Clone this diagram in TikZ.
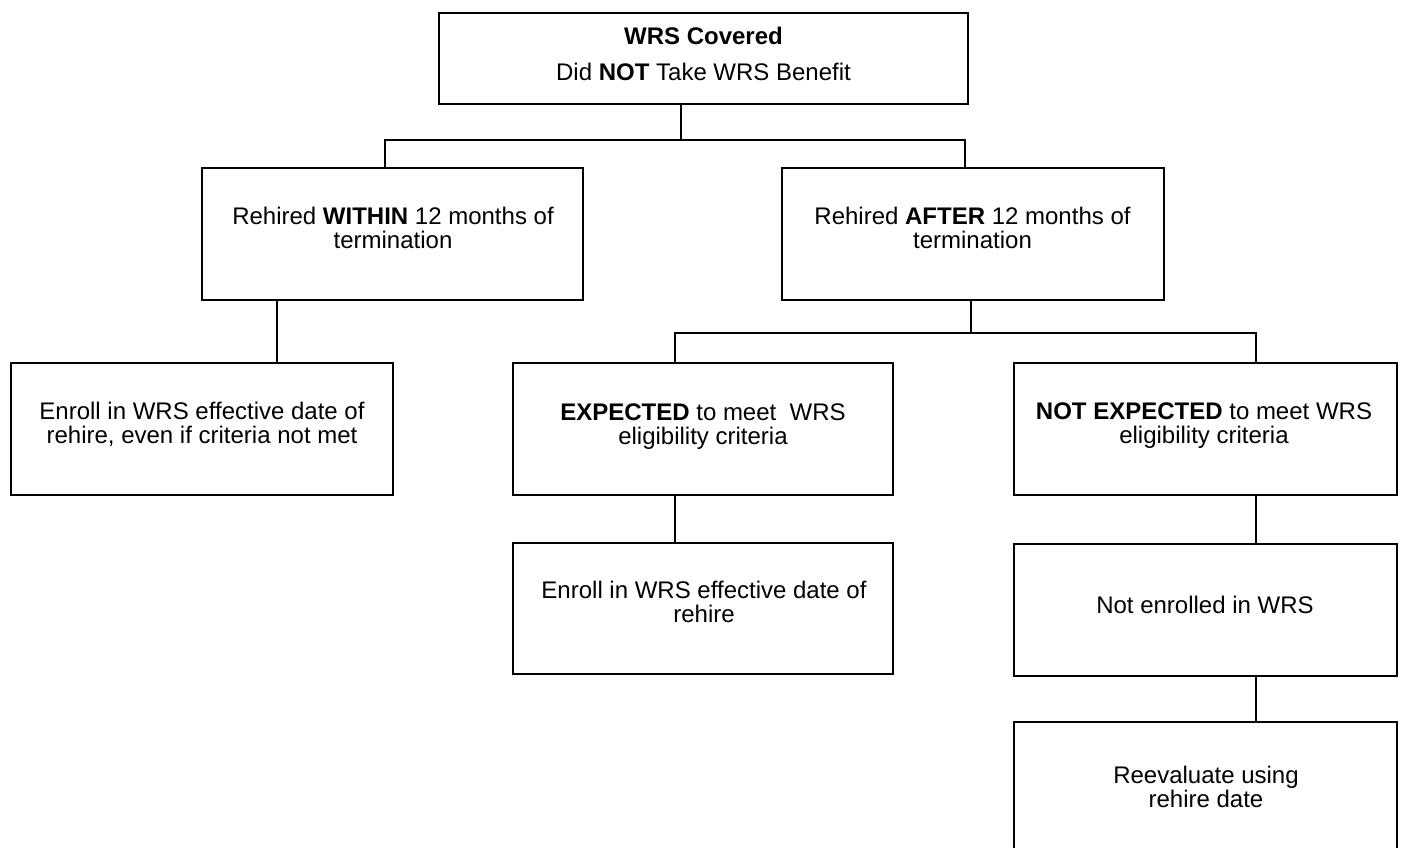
\documentclass[tikz,border=0pt]{standalone}
\usepackage{fontspec}
\setmainfont{Liberation Sans}
\begin{document}
\begin{tikzpicture}[x=1pt,y=-1pt,
  box/.style={draw, line width=1.7pt, inner sep=0pt, minimum width=382pt, minimum height=132pt},
  txt/.style={anchor=base, inner sep=0pt, font=\fontsize{24}{24.8}\selectfont},
  link/.style={line width=1.1pt}]
\useasboundingbox (0,0) rectangle (1401,848);
\clip (0,0) rectangle (1401,848);
% boxes
\node[box, minimum width=529pt, minimum height=91pt] (top) at (703.5,58.5) {};
\node[box, minimum width=381pt] (within) at (392.5,234) {};
\node[box] (after) at (973,234) {};
\node[box] (enroll1) at (202,429) {};
\node[box, minimum width=380pt] (expected) at (703,429) {};
\node[box, minimum width=383pt] (notexp) at (1205.5,429) {};
\node[box, minimum width=380pt, minimum height=131pt] (enroll2) at (703,608.5) {};
\node[box, minimum width=383pt] (notenr) at (1205.5,610) {};
\node[box, minimum width=383pt, minimum height=130pt] (reeval) at (1205.5,787) {};
% texts
\node[txt] (top-t) at (703.5,45) {\begin{tabular}[t]{@{}c@{}}\textbf{WRS Covered}\\[10.2pt] Did \textbf{NOT} Take WRS Benefit\end{tabular}};
\node[txt] (within-t) at (393,224) {\begin{tabular}[t]{@{}c@{}}Rehired \textbf{WITHIN} 12 months of\\ termination\end{tabular}};
\node[txt] (after-t) at (972.5,224) {\begin{tabular}[t]{@{}c@{}}Rehired \textbf{AFTER} 12 months of\\ termination\end{tabular}};
\node[txt] (enroll1-t) at (202,419) {\begin{tabular}[t]{@{}c@{}}Enroll in WRS effective date of\\ rehire, even if criteria not met\end{tabular}};
\node[txt] (expected-t) at (703,420) {\begin{tabular}[t]{@{}c@{}}\textbf{EXPECTED} to meet\ \ WRS\\ eligibility criteria\end{tabular}};
\node[txt] (notexp-t) at (1204,419) {\begin{tabular}[t]{@{}c@{}}\textbf{NOT EXPECTED} to meet WRS\\ eligibility criteria\end{tabular}};
\node[txt] (enroll2-t) at (704,598) {\begin{tabular}[t]{@{}c@{}}Enroll in WRS effective date of\\ rehire\end{tabular}};
\node[txt] (notenr-t) at (1205,613) {Not enrolled in WRS};
\node[txt] (reeval-t) at (1206,783) {\begin{tabular}[t]{@{}c@{}}Reevaluate using\\ rehire date\end{tabular}};
% bus coordinates
\coordinate (j1) at (681,140);
\coordinate (b1L) at (385,140);
\coordinate (b1R) at (965,140);
\coordinate (j2) at (971,333);
\coordinate (b2L) at (675,333);
\coordinate (b2R) at (1256,333);
\coordinate (c1) at (277,0);
% connectors
\draw[link] (top.south -| j1) -- (j1);
\draw[link] (b1L |- within.north) -- (b1L) -- (b1R) -- (b1R |- after.north);
\draw[link] (within.south -| c1) -- (enroll1.north -| c1);
\draw[link] (after.south -| j2) -- (j2);
\draw[link] (b2L |- expected.north) -- (b2L) -- (b2R) -- (b2R |- notexp.north);
\draw[link] (expected.south -| b2L) -- (enroll2.north -| b2L);
\draw[link] (notexp.south -| b2R) -- (notenr.north -| b2R);
\draw[link] (notenr.south -| b2R) -- (reeval.north -| b2R);
\end{tikzpicture}
\end{document}
